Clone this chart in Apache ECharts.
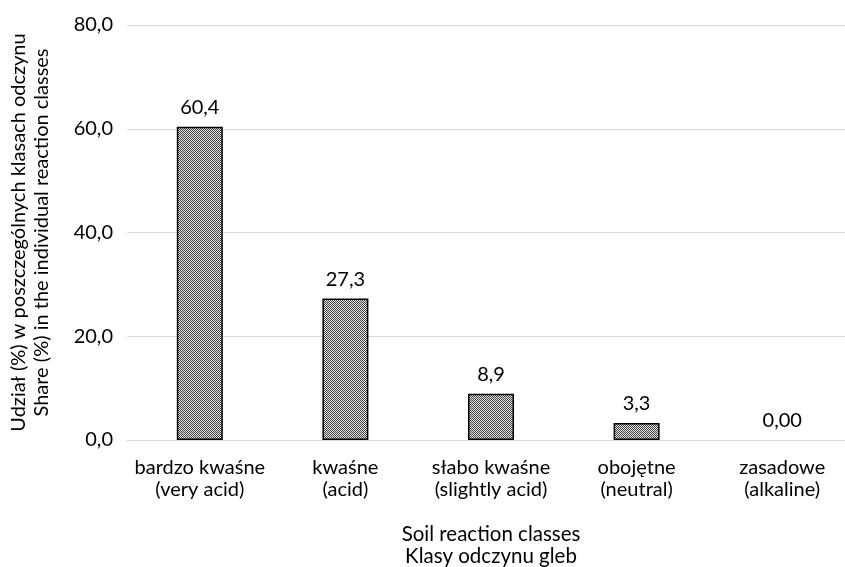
<!DOCTYPE html>
<html>
<head>
<meta charset="utf-8">
<script src="https://cdn.jsdelivr.net/npm/echarts@6/dist/echarts.min.js"></script>
<style>html,body{margin:0;padding:0;background:#fff}#c{width:845px;height:567px}</style>
</head>
<body>
<div id="c"></div>
<script>
const categories = ['bardzo kwaśne\n(very acid)', 'kwaśne\n(acid)', 'słabo kwaśne\n(slightly acid)', 'obojętne\n(neutral)', 'zasadowe\n(alkaline)'];
const values = [60.4, 27.3, 8.9, 3.3, 0.0];
const valueLabels = ['60,4', '27,3', '8,9', '3,3', '0,00'];
const yTicks = [0, 20, 40, 60, 80];
const yAxisName = 'Udział (%) w poszczególnych klasach odczynu\nShare (%) in the individual reaction classes';
const xAxisName = 'Soil reaction classes\nKlasy odczynu gleb';

const FONT = 'Lato';
const FS = 20;
const pc = document.createElement('canvas');
pc.width = 2; pc.height = 2;
const ctx = pc.getContext('2d');
ctx.fillStyle = '#e2e2e2'; ctx.fillRect(0, 0, 2, 2);
ctx.fillStyle = '#444444'; ctx.fillRect(0, 0, 1, 1); ctx.fillRect(1, 1, 1, 1);

const chart = echarts.init(document.getElementById('c'), null, {renderer: 'canvas'});
chart.setOption({
  animation: false,
  textStyle: {fontFamily: FONT},
  grid: {left: 127, top: 25, width: 728, height: 415, containLabel: false, outerBoundsMode: 'none'},
  xAxis: {
    type: 'category',
    data: categories,
    axisLine: {lineStyle: {color: '#d9d9d9', width: 1}},
    axisTick: {show: false},
    axisLabel: {color: '#000', fontSize: FS, lineHeight: 22.5, margin: 16, fontFamily: FONT, interval: 0},
    name: xAxisName,
    nameLocation: 'middle',
    nameGap: 83,
    nameTextStyle: {color: '#000', fontSize: 20.5, lineHeight: 22, fontFamily: FONT}
  },
  yAxis: {
    type: 'value',
    min: yTicks[0], max: yTicks[yTicks.length - 1], interval: 20,
    axisLine: {show: false},
    axisTick: {show: false},
    splitLine: {lineStyle: {color: '#d9d9d9', width: 1}},
    axisLabel: {color: '#000', fontSize: FS, margin: 14, fontFamily: FONT,
      formatter: v => v.toFixed(1).replace('.', ',')},
    name: yAxisName,
    nameLocation: 'middle',
    nameRotate: 90,
    nameGap: 74,
    nameTextStyle: {color: '#000', fontSize: FS, lineHeight: 23, fontFamily: FONT}
  },
  series: [{
    type: 'bar',
    data: values.map(v => v === 0 ? {value: v, itemStyle: {borderWidth: 0}} : v),
    barWidth: 46,
    itemStyle: {color: {image: pc, repeat: 'repeat'}, borderColor: '#000', borderWidth: 1.5},
    label: {show: true, position: 'top', distance: 9, color: '#000', fontSize: FS, fontFamily: FONT,
      formatter: p => valueLabels[p.dataIndex]}
  }]
});
</script>
</body>
</html>
